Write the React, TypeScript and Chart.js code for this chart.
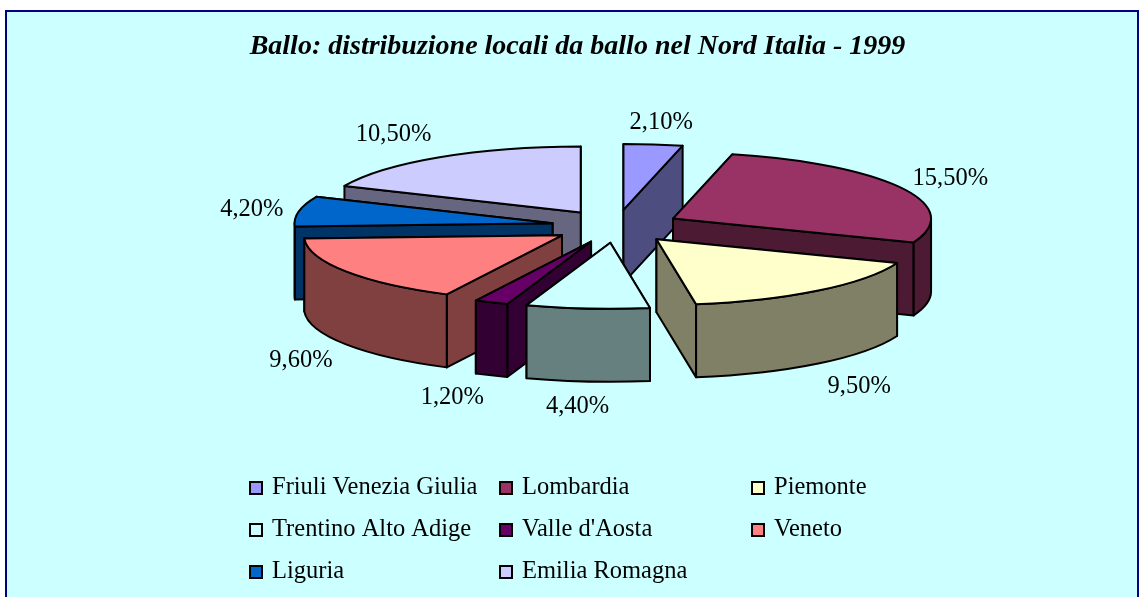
import React, { useEffect, useRef } from "react";
import { Chart, registerables } from "chart.js";

Chart.register(...registerables);

const TITLE = "Ballo: distribuzione locali da ballo nel Nord Italia - 1999";
const categories = [
  "Friuli Venezia Giulia",
  "Lombardia",
  "Piemonte",
  "Trentino Alto Adige",
  "Valle d'Aosta",
  "Veneto",
  "Liguria",
  "Emilia Romagna",
];
const shares = [2.1, 15.5, 9.5, 4.4, 1.2, 9.6, 4.2, 10.5];
const topColors = ["#9999FF", "#993366", "#FFFFCC", "#CCFFFF", "#660066", "#FF8080", "#0066CC", "#CCCCFF"];
const wallColors = ["#4D4D80", "#4D1A33", "#808066", "#668080", "#330033", "#804040", "#003366", "#666680"];

// Rendering constants for the tilted, exploded pie
const PIE_RX = 258;
const PIE_RY = 66;
const EXPLODE = 0.25;
const DEPTH = 73;
const CENTER_SHIFT_X = 38.5;
const LABEL_NUDGE: [number, number][] = [
  [8, -22],
  [49, -9],
  [41, 23.5],
  [-10, 25],
  [-39, 22],
  [-45, 16],
  [-47, -2],
  [-46, -23],
];
const LEGEND_COLS = [250, 500, 752];
const LEGEND_ROWS = [488, 530, 572];
const LEGEND_TEXT_GAP = 22;
const SERIF = "'Liberation Serif', serif";

const framePlugin = {
  id: "frame",
  beforeDraw(chart: any) {
    const { ctx, width, height } = chart;
    ctx.save();
    ctx.fillStyle = "#FFFFFF";
    ctx.fillRect(0, 0, width, height);
    ctx.fillStyle = "#CCFFFF";
    ctx.strokeStyle = "#000080";
    ctx.lineWidth = 2;
    ctx.beginPath();
    ctx.rect(6, 11, 1132, 600);
    ctx.fill();
    ctx.stroke();
    ctx.restore();
  },
};

function geometry(arc: any) {
  const mid = (arc.startAngle + arc.endAngle) / 2;
  const x = arc.x + CENTER_SHIFT_X + EXPLODE * PIE_RX * Math.cos(mid);
  const y = arc.y + EXPLODE * PIE_RY * Math.sin(mid);
  return { x, y, mid, start: arc.startAngle, end: arc.endAngle };
}

const pie3dPlugin = {
  id: "pie3d",
  beforeDatasetsDraw(chart: any) {
    const { ctx } = chart;
    const arcs = chart.getDatasetMeta(0).data;
    const order = arcs
      .map((a: any, i: number) => ({ i, g: geometry(a) }))
      .sort((p: any, q: any) => p.g.y - q.g.y);
    ctx.save();
    ctx.lineWidth = 2;
    ctx.strokeStyle = "#000000";
    ctx.lineJoin = "round";
    for (const { i, g } of order) {
      const px = (t: number) => g.x + PIE_RX * Math.cos(t);
      const py = (t: number) => g.y + PIE_RY * Math.sin(t);
      const quad = (t: number) => {
        ctx.beginPath();
        ctx.moveTo(g.x, g.y);
        ctx.lineTo(px(t), py(t));
        ctx.lineTo(px(t), py(t) + DEPTH);
        ctx.lineTo(g.x, g.y + DEPTH);
        ctx.closePath();
        ctx.fillStyle = wallColors[i];
        ctx.fill();
        ctx.stroke();
      };
      const radials = [g.start, g.end].sort((a, b) => py(a) - py(b));
      radials.forEach(quad);
      const a0 = Math.max(g.start, 0);
      const a1 = Math.min(g.end, Math.PI);
      if (a1 > a0) {
        ctx.beginPath();
        ctx.ellipse(g.x, g.y, PIE_RX, PIE_RY, 0, a0, a1);
        ctx.lineTo(px(a1), py(a1) + DEPTH);
        ctx.ellipse(g.x, g.y + DEPTH, PIE_RX, PIE_RY, 0, a1, a0, true);
        ctx.closePath();
        ctx.fillStyle = wallColors[i];
        ctx.fill();
        ctx.stroke();
      }
      ctx.beginPath();
      ctx.moveTo(g.x, g.y);
      ctx.ellipse(g.x, g.y, PIE_RX, PIE_RY, 0, g.start, g.end);
      ctx.closePath();
      ctx.fillStyle = topColors[i];
      ctx.fill();
      ctx.stroke();
    }
    ctx.restore();
    return false;
  },
  afterDraw(chart: any) {
    const { ctx } = chart;
    const arcs = chart.getDatasetMeta(0).data;
    ctx.save();
    ctx.fillStyle = "#000000";
    ctx.font = `24.5px ${SERIF}`;
    ctx.textAlign = "center";
    ctx.textBaseline = "middle";
    arcs.forEach((a: any, i: number) => {
      const g = geometry(a);
      const lower = Math.sin(g.mid) > 0.2 ? DEPTH : 0;
      const x = g.x + PIE_RX * Math.cos(g.mid) + LABEL_NUDGE[i][0];
      const y = g.y + PIE_RY * Math.sin(g.mid) + lower + LABEL_NUDGE[i][1];
      ctx.fillText(shares[i].toFixed(2).replace(".", ",") + "%", x, y);
    });
    ctx.font = `24.5px ${SERIF}`;
    ctx.textAlign = "left";
    categories.forEach((label, i) => {
      const col = LEGEND_COLS[i % 3];
      const row = LEGEND_ROWS[Math.floor(i / 3)];
      ctx.fillStyle = topColors[i];
      ctx.strokeStyle = "#000000";
      ctx.lineWidth = 2;
      ctx.fillRect(col, row - 6, 12, 12);
      ctx.strokeRect(col, row - 6, 12, 12);
      ctx.fillStyle = "#000000";
      ctx.fillText(label, col + LEGEND_TEXT_GAP, row);
    });
    ctx.restore();
  },
};

export default function App() {
  const ref = useRef<HTMLCanvasElement>(null);
  useEffect(() => {
    document.body.style.margin = "0";
    const chart = new Chart(ref.current as HTMLCanvasElement, {
      type: "pie",
      data: {
        labels: categories,
        datasets: [{ data: shares, backgroundColor: topColors, borderColor: "#000000", borderWidth: 2 }],
      },
      options: {
        responsive: false,
        animation: false,
        rotation: 0,
        layout: { padding: { left: 12, right: 0, top: 30, bottom: 212 } },
        plugins: {
          legend: { display: false },
          tooltip: { enabled: false },
          title: {
            display: true,
            text: TITLE,
            color: "#000000",
            font: { family: SERIF, size: 28, style: "italic", weight: "bold" },
            padding: { top: 0, bottom: 4 },
          },
        },
      },
      plugins: [framePlugin, pie3dPlugin],
    } as any);
    return () => chart.destroy();
  }, []);
  return <canvas ref={ref} width={1143} height={597} style={{ display: "block", width: 1143, height: 597 }} />;
}
